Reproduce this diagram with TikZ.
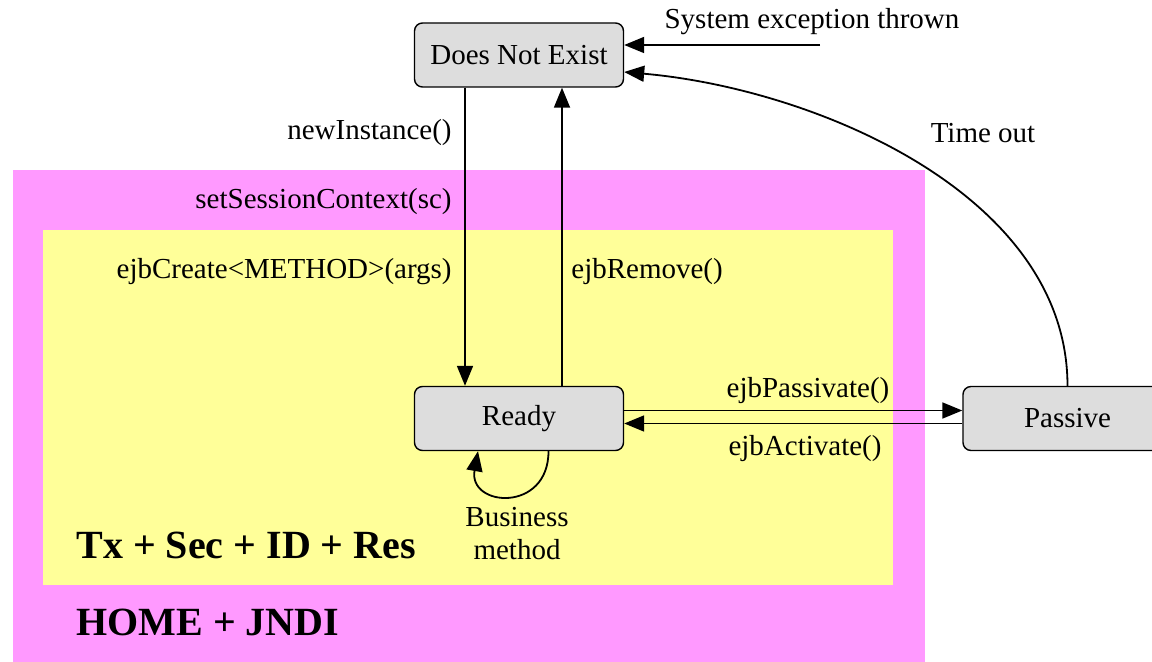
\documentclass[tikz,border=0pt]{standalone}
\usepackage{fontspec}
\setmainfont{Liberation Serif}
\usetikzlibrary{arrows.meta}
\definecolor{rose}{HTML}{FF99FF}
\definecolor{jaune}{HTML}{FFFF99}
\definecolor{gris}{HTML}{DDDDDD}
\begin{document}
\begin{tikzpicture}[x=0.5pt,y=-0.5pt]
\tikzset{etat/.style={draw, rounded corners=4pt, fill=gris, line width=0.7pt, minimum width=104.5pt, minimum height=32pt, font=\fontsize{14.5}{17}\selectfont},
  texte/.style={inner sep=0pt, font=\fontsize{14.5}{16.5}\selectfont},
  gras/.style={inner sep=0pt, font=\fontsize{20}{24}\selectfont\bfseries},
  fleche/.style={line width=0.9pt, -{Triangle[length=10pt,width=8pt]}}}
\clip (0,0) rectangle (1152,662);
\fill[rose] (13,170) rectangle (925,670);
\fill[jaune] (43,230) rectangle (893,585);
\node[etat] (DNE) at (519,55) {Does Not Exist};
\node[etat] (R) at (519,418.5) {\raisebox{-1pt}{Ready}};
\node[etat] (P) at (1067.5,418.5) {Passive};
\coordinate (SE) at (820,45);
\draw[fleche] ([xshift=-27pt]DNE.south) -- ([xshift=-27pt]R.north);
\draw[fleche] ([xshift=21.5pt]R.north) -- ([xshift=21.5pt]DNE.south);
\draw[fleche] (SE) -- ([yshift=5pt]DNE.east);
\draw[fleche] (P.north) to[out=90, in=-5, looseness=0.9] ([yshift=-8.5pt]DNE.east);
\draw[fleche] ([yshift=4pt]R.east) -- ([yshift=4pt]P.west);
\draw[fleche] ([yshift=-2.5pt]P.west) -- ([yshift=-2.5pt]R.east);
\draw[fleche] ([xshift=14.75pt]R.south) .. controls +(0,-31pt) and +(-5pt,-28pt) .. ([xshift=-20.5pt]R.south);
\node[texte] (se) at (812,22) {System exception thrown};
\node[texte, anchor=east] (ni) at (452,133) {newInstance()};
\node[texte] (to) at (983,133) {Time out};
\node[texte, anchor=east] (ssc) at (452,202) {setSessionContext(sc)};
\node[texte, anchor=east] (ec) at (452,272) {ejbCreate<METHOD>(args)};
\node[texte, anchor=west] (er) at (571,272) {ejbRemove()};
\node[texte] (ep) at (808,391) {ejbPassivate()};
\node[texte] (ea) at (805,449) {ejbActivate()};
\node[texte, align=center] (bm) at (517,534) {Business\\method};
\node[gras, anchor=west] (tx) at (76,545) {Tx + Sec + ID + Res};
\node[gras, anchor=west] (hj) at (76,622) {HOME + JNDI};
\end{tikzpicture}
\end{document}
